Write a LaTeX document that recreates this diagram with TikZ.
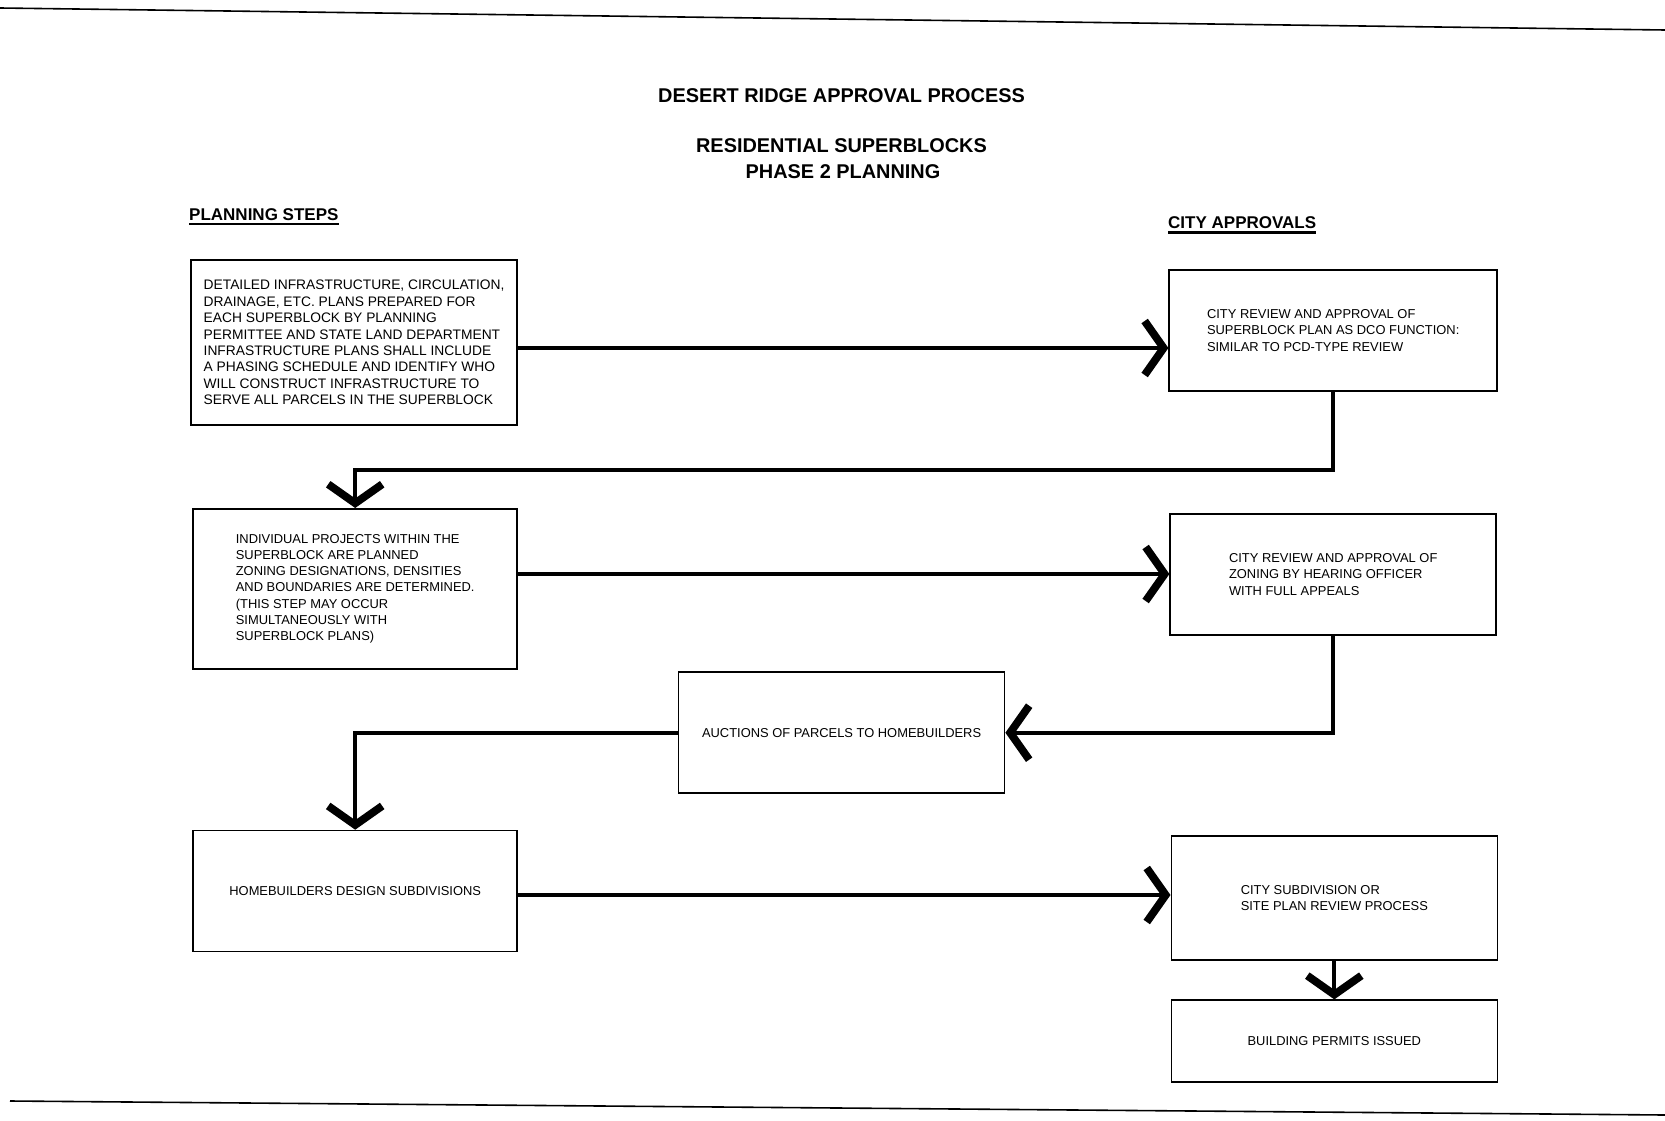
\documentclass[tikz,border=0pt]{standalone}
\usepackage{fontspec}
\setmainfont{Liberation Sans}
\usetikzlibrary{arrows.meta}
\begin{document}
\begin{tikzpicture}[x=1pt,y=-1pt,
  box/.style={draw, line width=1.6pt, minimum width=326pt, inner sep=0pt, align=left,
    font=\fontsize{12.9}{16.3}\selectfont},
  conn/.style={line width=3.8pt, line join=miter,
    -{Straight Barb[length=19pt,width=54pt,line width=7.8pt,sharp]}},
  ttl/.style={font=\fontsize{19.9}{22}\selectfont\bfseries, inner sep=0pt},
  colhead/.style={font=\fontsize{17}{20}\selectfont\bfseries, inner sep=0pt},
  rule/.style={line width=1.6pt}
]
\useasboundingbox (0,0) rectangle (1665,1121);
% page edge lines
\coordinate (tl) at (0,8);
\coordinate (tr) at (1665,30);
\coordinate (bl) at (10,1101);
\coordinate (br) at (1665,1115);
\draw[rule] (tl) -- (tr);
\draw[rule] (bl) -- (br);
% titles
\node[ttl] (t1) at (841.5,95.6) {DESERT RIDGE APPROVAL PROCESS};
\node[ttl] (t2) at (841.5,145.5) {RESIDENTIAL SUPERBLOCKS};
\node[ttl] (t3) at (843,172) {PHASE 2 PLANNING};
% column headings
\node[colhead, anchor=west] (ps) at (189,214.5) {PLANNING STEPS};
\draw[line width=2.5pt] ([yshift=-3.5pt]ps.base west) -- ([yshift=-3.5pt]ps.base east);
\node[colhead, anchor=west] (ca) at (1168,223) {CITY APPROVALS};
\draw[line width=2.5pt] ([yshift=-3.5pt]ca.base west) -- ([yshift=-3.5pt]ca.base east);
% boxes
\node[box, minimum height=164.6pt, font=\fontsize{13.8}{16.4}\selectfont] (b1) at (354.1,342.5)
 {DETAILED INFRASTRUCTURE, CIRCULATION,\\DRAINAGE, ETC. PLANS PREPARED FOR\\EACH SUPERBLOCK BY PLANNING\\PERMITTEE AND STATE LAND DEPARTMENT\\INFRASTRUCTURE PLANS SHALL INCLUDE\\A PHASING SCHEDULE AND IDENTIFY WHO\\WILL CONSTRUCT INFRASTRUCTURE TO\\SERVE ALL PARCELS IN THE SUPERBLOCK};
\node[box, minimum width=328pt, minimum height=121pt] (b2) at (1333.2,330.3)
 {CITY REVIEW AND APPROVAL OF\\SUPERBLOCK PLAN AS DCO FUNCTION:\\SIMILAR TO PCD-TYPE REVIEW};
\node[box, minimum width=324pt, minimum height=160pt] (b3) at (355.2,588.8)
 {INDIVIDUAL PROJECTS WITHIN THE\\SUPERBLOCK ARE PLANNED\\ZONING DESIGNATIONS, DENSITIES\\AND BOUNDARIES ARE DETERMINED.\\(THIS STEP MAY OCCUR\\SIMULTANEOUSLY WITH\\SUPERBLOCK PLANS)};
\node[box, minimum height=121pt] (b4) at (1333.2,574.5)
 {CITY REVIEW AND APPROVAL OF\\ZONING BY HEARING OFFICER\\WITH FULL APPEALS};
\node[box, minimum height=121pt] (b5) at (841.6,732.7)
 {AUCTIONS OF PARCELS TO HOMEBUILDERS};
\node[box, minimum width=324pt, minimum height=121pt] (b6) at (355.2,891)
 {HOMEBUILDERS DESIGN SUBDIVISIONS};
\node[box, minimum height=124pt] (b7) at (1334.3,897.9)
 {CITY SUBDIVISION OR\\SITE PLAN REVIEW PROCESS};
\node[box, minimum height=82pt] (b8) at (1334.3,1041.2)
 {BUILDING PERMITS ISSUED};
% connectors
\draw[conn] (b1.east |- 0,348) -- (b2.west |- 0,348);
\draw[conn] (b2.south) -- ++(0,78.6) -| (b3.north);
\draw[conn] (b3.east |- 0,574) -- (b4.west |- 0,574);
\draw[conn] (b4.south) |- (b5.east);
\draw[conn] (b5.west) -| (b6.north);
\draw[conn] (b6.east |- 0,895) -- (b7.west |- 0,895);
\draw[conn] (b7.south) -- (b8.north);
\end{tikzpicture}
\end{document}
